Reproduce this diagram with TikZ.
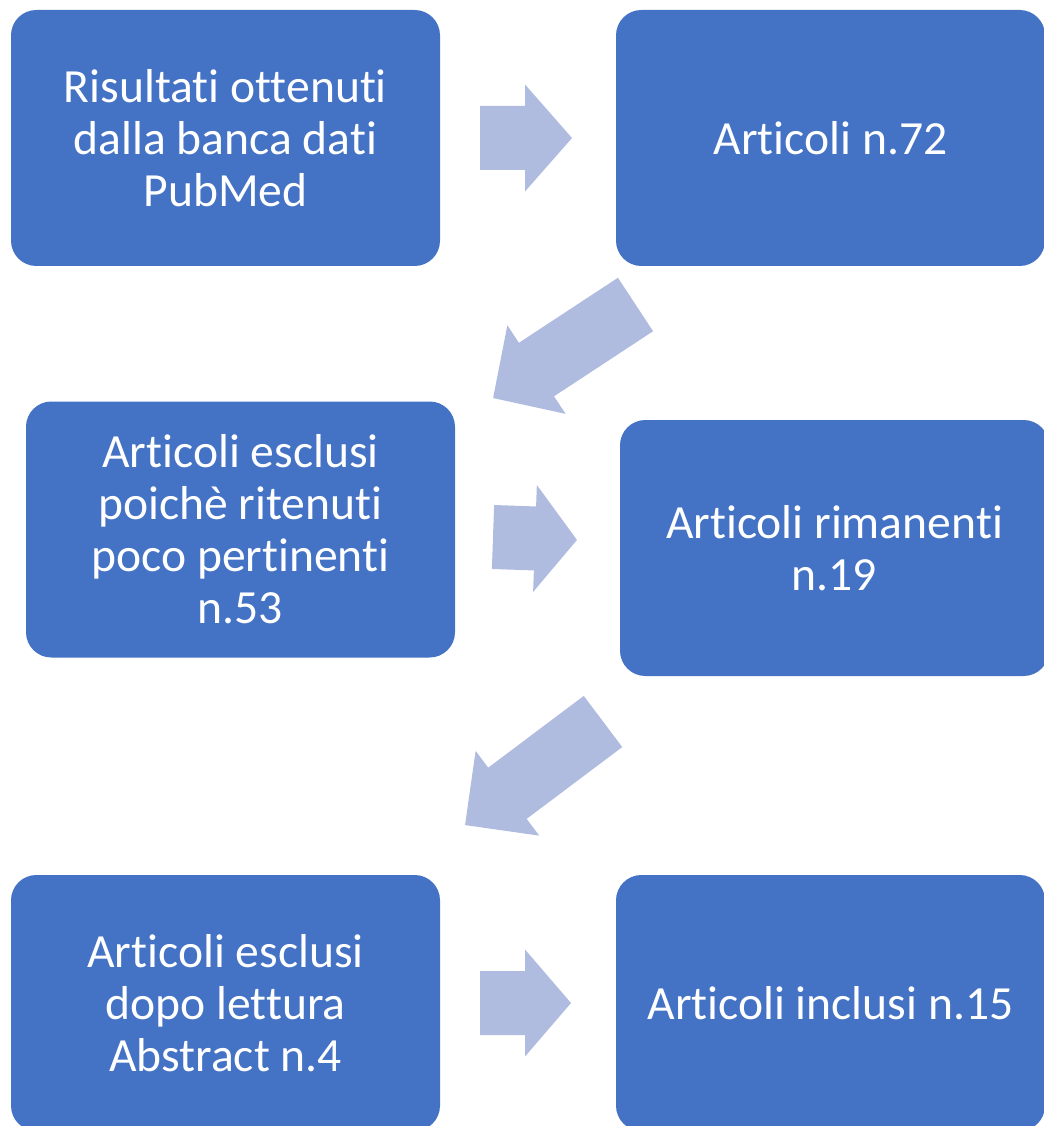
\documentclass[tikz,border=0pt]{standalone}
\usepackage{fontspec}
\setmainfont{Carlito}[Ligatures={NoCommon}]
\usepackage{tikz}
\usetikzlibrary{positioning}
\definecolor{BoxBlue}{HTML}{4472C4}
\definecolor{ArrowBlue}{HTML}{AFBCDF}

\tikzset{
  box/.style={fill=BoxBlue, rounded corners=19pt, minimum width=321.75pt,
    minimum height=192pt, inner sep=0pt, align=center, text=white,
    font=\fontsize{35.7}{39}\selectfont},
  blockarrow/.style={fill=ArrowBlue}
}

\begin{document}
\begin{tikzpicture}[x=0.75pt, y=-0.75pt]
    \useasboundingbox (0,0) rectangle (1043,1126);

    \node[box] (risultati) at (225.5,138) {Risultati ottenuti\\dalla banca dati\\PubMed};
    \node[box] (articoli) at (830.5,138) {Articoli n.72};
    \node[box] (esclusi) at (240.5,529.5) {Articoli esclusi\\poichè ritenuti\\poco pertinenti\\n.53};
    \node[box] (rimanenti) at (834.5,548) {Articoli rimanenti\\n.19};
    \node[box] (esclusiabs) at (225.5,1003) {Articoli esclusi\\dopo lettura\\Abstract n.4};
    \node[box] (inclusi) at (830.5,1003) {Articoli inclusi n.15};

    % frecce
    \begin{scope}[shift={(480,138)}]
      \fill[blockarrow] (0,32) -- (45,32) -- (45,53.5) -- (92,0) -- (45,-53.5) -- (45,-32) -- (0,-32) -- cycle;
    \end{scope}
    \begin{scope}[shift={(635.5,304.5)}, rotate=213.3]
      \fill[blockarrow] (0,32) -- (118.5,32) -- (118.5,53) -- (170.4,0) -- (118.5,-53) -- (118.5,-32) -- (0,-32) -- cycle;
    \end{scope}
    \begin{scope}[shift={(493,537)}, rotate=-2]
      \fill[blockarrow] (0,32) -- (42,32) -- (42,53.5) -- (84,0) -- (42,-53.5) -- (42,-32) -- (0,-32) -- cycle;
    \end{scope}
    \begin{scope}[shift={(603,721.5)}, rotate=216.9]
      \fill[blockarrow] (0,32) -- (119.5,32) -- (119.5,53) -- (172.5,0) -- (119.5,-53) -- (119.5,-32) -- (0,-32) -- cycle;
    \end{scope}
    \begin{scope}[shift={(480,1003)}]
      \fill[blockarrow] (0,32) -- (45,32) -- (45,53.5) -- (91,0) -- (45,-53.5) -- (45,-32) -- (0,-32) -- cycle;
    \end{scope}
  \end{tikzpicture}
\end{document}
